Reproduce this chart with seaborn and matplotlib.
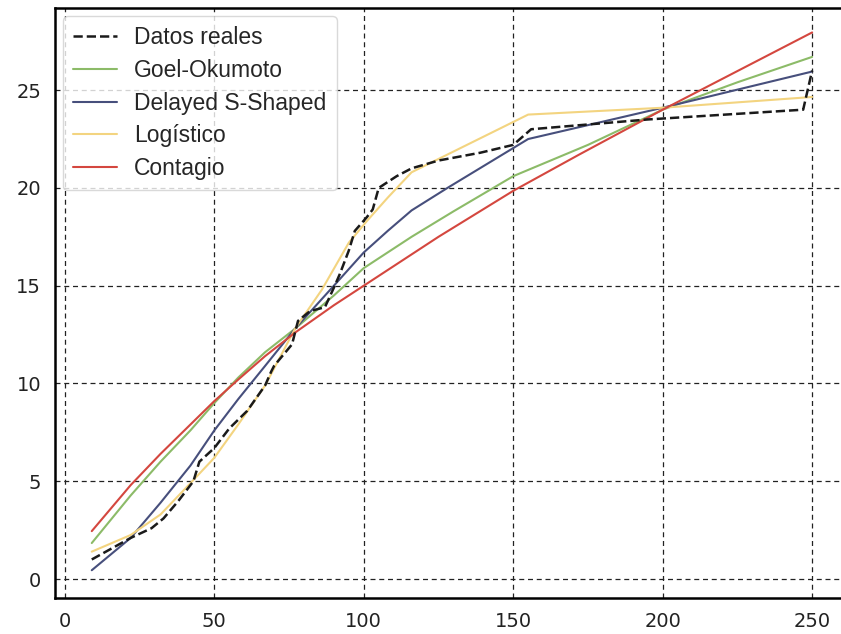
import matplotlib
matplotlib.use("Agg")
import matplotlib.pyplot as plt
import seaborn as sns
import pandas as pd

# ---- data ----
real_x = [9, 22, 29, 33, 38, 43, 45, 50, 55, 61, 67, 69, 70, 76, 78, 82, 87, 90, 92, 95, 97,
          101, 103, 105, 111, 116, 125, 139, 150, 153, 156, 195, 247, 250]
real_y = [1.0, 2.1, 2.6, 3.1, 4.0, 5.0, 6.0, 6.7, 7.7, 8.6, 9.9, 10.6, 10.9, 12.0, 13.2, 13.7,
          13.9, 14.9, 15.6, 16.8, 17.8, 18.5, 18.9, 20.0, 20.6, 21.0, 21.4, 21.8, 22.2, 22.6,
          23.0, 23.5, 24.0, 26.0]

go_x = [9, 22, 32, 42, 50, 58, 67, 77, 90, 100, 116, 130, 150, 175, 200, 225, 250]
go_y = [1.84, 4.27, 6.0, 7.6, 9.0, 10.3, 11.6, 12.8, 14.5, 15.9, 17.5, 18.8, 20.6, 22.2, 24.0, 25.4, 26.7]

ds_x = [9, 22, 32, 42, 50, 58, 67, 77, 90, 100, 108, 116, 128, 155, 200, 250]
ds_y = [0.45, 2.1, 3.9, 5.8, 7.6, 9.2, 10.9, 12.8, 15.0, 16.7, 17.8, 18.85, 20.0, 22.5, 24.1, 25.95]

lg_x = [9, 22, 32, 42, 50, 58, 67, 77, 86, 95, 101, 108, 116, 155, 200, 250]
lg_y = [1.4, 2.25, 3.3, 4.9, 6.2, 7.9, 9.9, 12.8, 14.8, 17.2, 18.3, 19.5, 20.8, 23.75, 24.1, 24.65]

ct_x = [9, 22, 32, 42, 50, 58, 67, 77, 90, 100, 116, 125, 150, 172, 200, 250]
ct_y = [2.45, 4.8, 6.4, 7.9, 9.1, 10.2, 11.4, 12.6, 14.0, 15.0, 16.6, 17.5, 19.85, 21.7, 24.0, 27.95]

labels = ["Datos reales", "Goel-Okumoto", "Delayed S-Shaped", "Logístico", "Contagio"]
colors = ["#1a1a1a", "#8cbb68", "#474f7c", "#f3d480", "#d4473f"]

x_ticks = [0, 50, 100, 150, 200, 250]
y_ticks = [0, 5, 10, 15, 20, 25]

sns.set_style("white")
plt.rcParams["font.family"] = ["DejaVu Sans"]

fig = plt.figure(figsize=(8.41, 6.34), dpi=100)
ax = fig.add_axes([55 / 841, 36 / 634, 793 / 841, 590 / 634])

series = [(real_x, real_y), (go_x, go_y), (ds_x, ds_y), (lg_x, lg_y), (ct_x, ct_y)]
for i, ((xs, ys), lab, col) in enumerate(zip(series, labels, colors)):
    df = pd.DataFrame({"x": xs, "y": ys})
    if i == 0:
        sns.lineplot(data=df, x="x", y="y", ax=ax, color=col, linestyle="--",
                     linewidth=1.8, label=lab, sort=False, estimator=None, zorder=3)
    else:
        sns.lineplot(data=df, x="x", y="y", ax=ax, color=col, linewidth=1.5,
                     label=lab, sort=False, estimator=None, zorder=2)

ax.set_xlim(-3.3, 262)
ax.set_ylim(-0.97, 29.2)
ax.set_xticks(x_ticks)
ax.set_yticks(y_ticks)
ax.set_xlabel("")
ax.set_ylabel("")
ax.grid(True, linestyle=(0, (4, 3)), color="#222222", linewidth=0.9)
ax.set_axisbelow(True)
for s in ax.spines.values():
    s.set_color("black")
    s.set_linewidth(1.8)
ax.tick_params(axis="both", direction="out", length=6, width=1.3, color="black",
               labelsize=14, labelcolor="#222222", pad=4)

leg = ax.legend(loc="upper left", prop={"family": "Liberation Sans", "size": 16.5},
                labelspacing=0.42, handlelength=1.9, handletextpad=0.75,
                borderpad=0.45, borderaxespad=0.35, frameon=True, fancybox=True)
leg.get_frame().set_edgecolor("#d0d0d0")
leg.get_frame().set_linewidth(1.0)

fig.savefig("out.png", dpi=100)
